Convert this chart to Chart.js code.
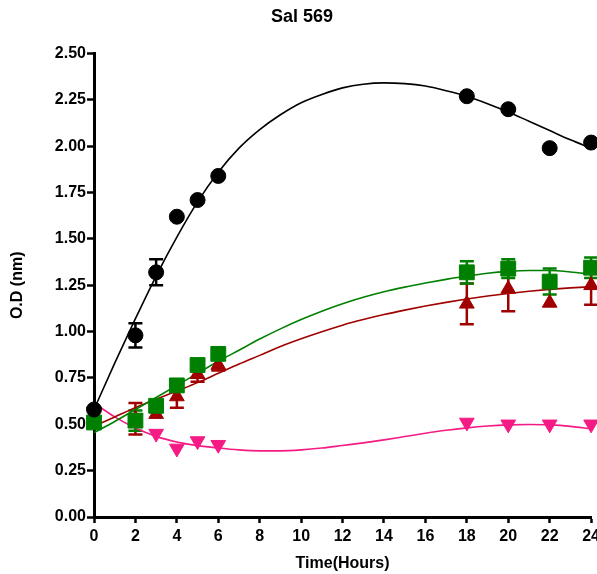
<!DOCTYPE html>
<html>
<head>
<meta charset="utf-8">
<script src="https://cdn.jsdelivr.net/npm/chart.js@4.4.0/dist/chart.umd.min.js"></script>
<style>
  html, body { margin: 0; padding: 0; background: #fff; overflow: hidden; }
  #wrap { width: 597px; height: 574px; overflow: hidden; }
</style>
</head>
<body>
<div id="wrap"><canvas id="odChart" width="604" height="574"></canvas></div>
<script>
// sampling times (hours)
const hours = [0, 2, 3, 4, 5, 6, 18, 20, 22, 24];

// mean O.D per strain/condition
const blackOD = [0.58, 0.98, 1.32, 1.62, 1.71, 1.84, 2.27, 2.20, 1.99, 2.02];
const greenOD = [0.51, 0.52, 0.60, 0.71, 0.82, 0.88, 1.32, 1.34, 1.27, 1.345];
const redOD   = [0.50, 0.53, 0.555, 0.65, 0.77, 0.82, 1.15, 1.23, 1.155, 1.25];
const pinkOD  = [0.57, 0.535, 0.45, 0.37, 0.41, 0.39, 0.51, 0.50, 0.50, 0.50];

// error (+/-), 0 = no visible bar
const blackErr = [0, 0.065, 0.07, 0, 0, 0, 0, 0, 0, 0];
const greenErr = [0, 0.055, 0, 0, 0, 0, 0.06, 0.05, 0.07, 0.055];
const redErr   = [0, 0.085, 0, 0.06, 0.04, 0.03, 0.11, 0.12, 0, 0.105];
const pinkErr  = [0, 0, 0, 0, 0, 0, 0, 0, 0, 0];

// fitted curves at every hour
const fitHours = [0, 1, 2, 3, 4, 5, 6, 7, 8, 9, 10, 11, 12, 13, 14, 15, 16, 17, 18, 19, 20, 21, 22, 23, 24];
const blackFit = [0.58, 0.83, 1.07, 1.30, 1.51, 1.70, 1.86, 1.99, 2.09, 2.17, 2.235, 2.28, 2.315, 2.335, 2.342, 2.338, 2.325, 2.30, 2.27, 2.23, 2.185, 2.135, 2.085, 2.035, 1.99];
const greenFit = [0.455, 0.515, 0.58, 0.645, 0.71, 0.775, 0.84, 0.90, 0.96, 1.015, 1.065, 1.11, 1.15, 1.185, 1.215, 1.24, 1.262, 1.282, 1.30, 1.315, 1.325, 1.33, 1.33, 1.322, 1.31];
const redFit   = [0.49, 0.54, 0.59, 0.635, 0.68, 0.725, 0.775, 0.825, 0.872, 0.92, 0.962, 1.0, 1.035, 1.065, 1.092, 1.116, 1.138, 1.158, 1.176, 1.192, 1.206, 1.218, 1.228, 1.236, 1.242];
const pinkFit  = [0.615, 0.54, 0.48, 0.435, 0.405, 0.385, 0.372, 0.362, 0.357, 0.357, 0.362, 0.372, 0.386, 0.40, 0.416, 0.434, 0.452, 0.468, 0.481, 0.491, 0.497, 0.499, 0.497, 0.489, 0.475];

const BLACK = "#000000";
const GREEN = "#008000";
const RED = "#A00000";
const PINK = "#F51B84";

function pts(xs, ys) {
  return xs.map((x, i) => ({ x: x, y: ys[i] }));
}

const errGroups = [
  { mean: pinkOD, err: pinkErr, color: PINK },
  { mean: redOD, err: redErr, color: RED },
  { mean: greenOD, err: greenErr, color: GREEN },
  { mean: blackOD, err: blackErr, color: BLACK },
];

// vertical error bars with caps
const errorBars = {
  id: "errorBars",
  beforeDatasetsDraw(chart) {
    const ctx = chart.ctx;
    const xs = chart.scales.x;
    const ys = chart.scales.y;
    errGroups.forEach((g) => {
      ctx.save();
      ctx.strokeStyle = g.color;
      ctx.lineWidth = 2.5;
      g.err.forEach((e, i) => {
        if (!e) return;
        const px = xs.getPixelForValue(hours[i]);
        const top = ys.getPixelForValue(g.mean[i] + e);
        const bot = ys.getPixelForValue(g.mean[i] - e);
        ctx.beginPath();
        ctx.moveTo(px, top);
        ctx.lineTo(px, bot);
        ctx.moveTo(px - 7, top);
        ctx.lineTo(px + 7, top);
        ctx.moveTo(px - 7, bot);
        ctx.lineTo(px + 7, bot);
        ctx.stroke();
      });
      ctx.restore();
    });
  },
};

function markers(data, color, style, radius, rotation, order) {
  return {
    type: "scatter",
    data: pts(hours, data),
    backgroundColor: color,
    borderColor: color,
    pointStyle: style,
    pointRadius: radius,
    pointRotation: rotation,
    pointBorderWidth: 1,
    showLine: false,
    clip: false,
    order: order,
  };
}

function curve(data, color, order) {
  return {
    type: "line",
    data: pts(fitHours, data),
    borderColor: color,
    borderWidth: 1.6,
    pointRadius: 0,
    fill: false,
    cubicInterpolationMode: "monotone",
    clip: false,
    order: order,
  };
}

const tickFont = { family: "'Liberation Sans', Arial, sans-serif", size: 16, weight: "bold" };
const titleFont = { family: "'Liberation Sans', Arial, sans-serif", size: 16, weight: "bold" };

new Chart(document.getElementById("odChart"), {
  data: {
    datasets: [
      markers(blackOD, BLACK, "circle", 7.5, 0, 1),
      markers(greenOD, GREEN, "rect", 10.5, 0, 2),
      markers(redOD, RED, "triangle", 8.5, 0, 3),
      markers(pinkOD, PINK, "triangle", 8.5, 180, 4),
      curve(blackFit, BLACK, 5),
      curve(greenFit, GREEN, 6),
      curve(redFit, RED, 7),
      curve(pinkFit, PINK, 8),
    ],
  },
  options: {
    responsive: false,
    animation: false,
    layout: { padding: 0 },
    scales: {
      x: {
        type: "linear",
        min: 0,
        max: 24,
        ticks: { stepSize: 2, font: tickFont, color: BLACK, padding: 4 },
        grid: { display: true, drawOnChartArea: false, drawTicks: true, tickLength: 6, tickWidth: 2.5, tickColor: BLACK },
        border: { display: true, color: BLACK, width: 3 },
        title: { display: true, text: "Time(Hours)", font: titleFont, color: BLACK, padding: { top: 4, bottom: 1 } },
        afterFit: (s) => { s.height = 57; },
      },
      y: {
        type: "linear",
        min: 0,
        max: 2.5,
        ticks: { stepSize: 0.25, font: tickFont, color: BLACK, padding: 1, callback: (v) => v.toFixed(2) },
        grid: { display: true, drawOnChartArea: false, drawTicks: true, tickLength: 7, tickWidth: 2.5, tickColor: BLACK },
        border: { display: true, color: BLACK, width: 3 },
        title: { display: true, text: "O.D (nm)", font: titleFont, color: BLACK, padding: { top: 8, bottom: 4 } },
        afterFit: (s) => { s.width = 94; },
      },
    },
    plugins: {
      legend: { display: false },
      tooltip: { enabled: false },
      title: {
        display: true,
        text: "Sal 569",
        color: BLACK,
        font: { family: "'Liberation Sans', Arial, sans-serif", size: 18, weight: "bold" },
        padding: { top: 6, bottom: 26 },
      },
    },
  },
  plugins: [errorBars],
});
</script>
</body>
</html>
